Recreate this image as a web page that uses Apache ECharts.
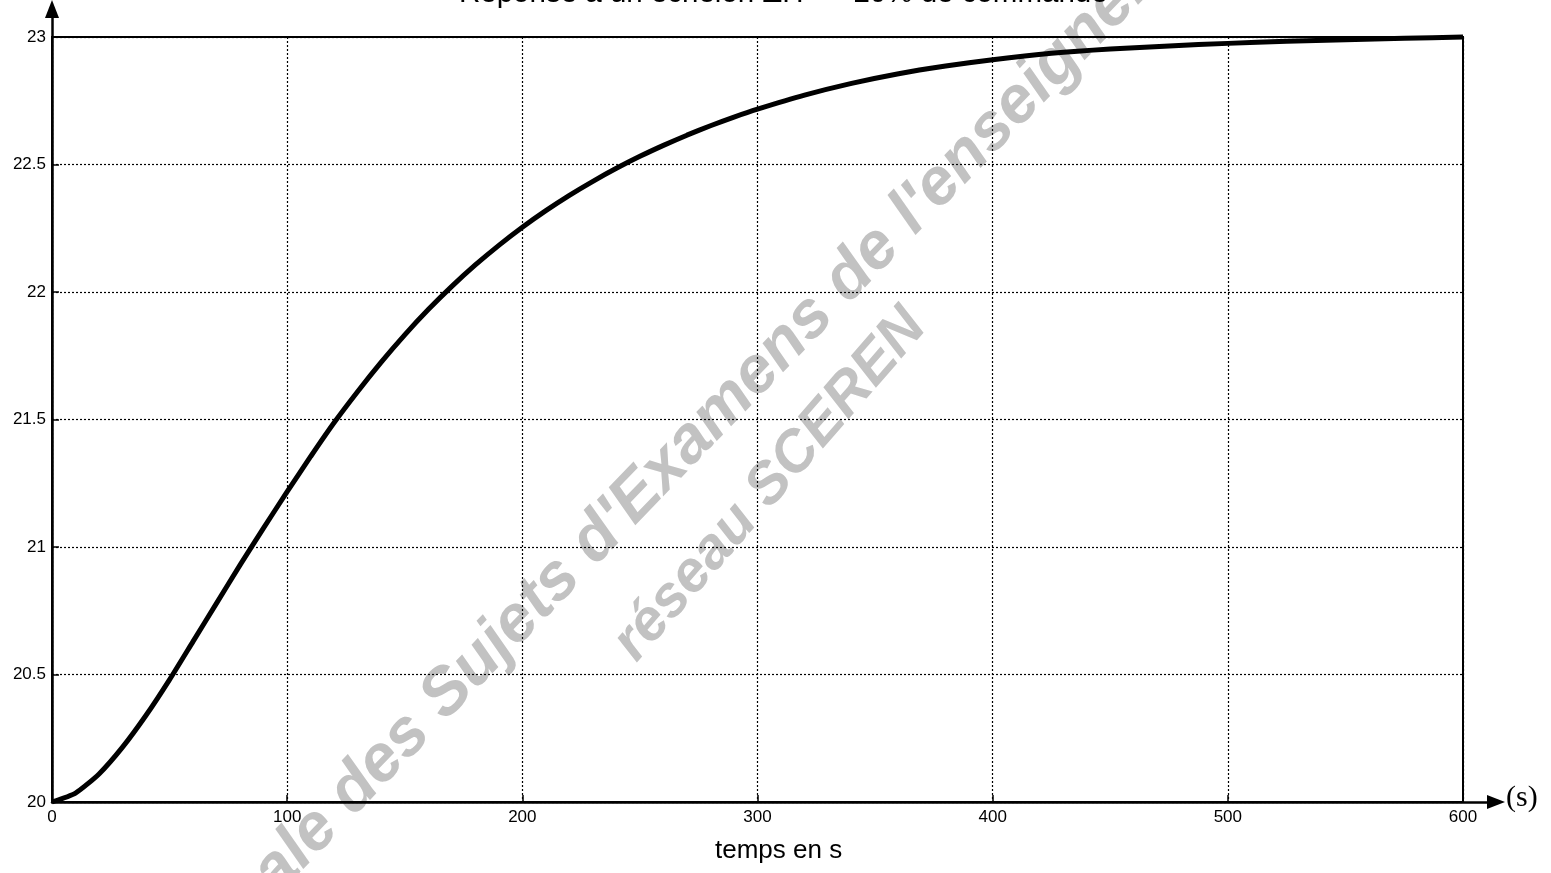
<!DOCTYPE html>
<html><head><meta charset="utf-8">
<script src="https://cdn.jsdelivr.net/npm/echarts/dist/echarts.min.js"></script>
<style>html,body{margin:0;padding:0;background:#fff}#c{width:1551px;height:873px}</style>
</head><body><div id="c"></div>
<script>
const timeS = [0,10,20,30,40,50,60,70,80,90,100,110,120,130,140,150,160,170,180,190,200,210,220,230,240,250,260,270,280,290,300,320,340,360,380,400,425,450,475,500,525,550,575,600];
const temperature = [20.000,20.035,20.11,20.215,20.34,20.48,20.63,20.78,20.93,21.075,21.217,21.355,21.488,21.61,21.725,21.832,21.931,22.022,22.106,22.183,22.254,22.319,22.379,22.434,22.485,22.532,22.575,22.615,22.652,22.686,22.717,22.772,22.818,22.856,22.886,22.911,22.936,22.953,22.965,22.975,22.983,22.989,22.995,23.0];
const xTicks = [0,100,200,300,400,500,600];
const yTicks = [20,20.5,21,21.5,22,22.5,23];
const titleText = 'Réponse à un échelon ΔH  =  20% de commande';
const xAxisName = 'temps en s';
const unitText = '(s)';
const watermark1 = "Base Nationale des Sujets d'Examens de l'enseignement professionnel";
const watermark2 = 'réseau SCEREN';

const chart = echarts.init(document.getElementById('c'), null, {renderer:'canvas'});
const font = 'Liberation Sans';
const deg = Math.PI/180;
chart.setOption({
  backgroundColor:'#fff',
  animation:false,
  title:[
    {text:titleText, left:459, top:-21, padding:0, textStyle:{fontSize:29.5, fontWeight:'normal', fontFamily:font, color:'#000'}},
    {text:xAxisName, left:715, top:838, padding:0, textStyle:{fontSize:26, fontWeight:'normal', fontFamily:font, color:'#000'}},
    {text:unitText, left:1506, top:783, padding:0, textStyle:{fontSize:30, fontWeight:'normal', fontFamily:'Liberation Serif', color:'#000'}}
  ],
  graphic:[
    {type:'text', x:-1, y:1158, rotation:46*deg, z:-10, silent:true,
     style:{text:watermark1, fill:'#c2c2c2', font:'italic bold 66px "Liberation Sans"', align:'left', verticalAlign:'middle', textAlign:'left', textVerticalAlign:'middle'}},
    {type:'text', x:770, y:485, rotation:49*deg, z:-10, silent:true,
     style:{text:watermark2, fill:'#c2c2c2', font:'italic bold 58px "Liberation Sans"', align:'center', verticalAlign:'middle', textAlign:'center', textVerticalAlign:'middle'}}
  ],
  grid:[
    {left:52, right:88, top:37, bottom:71, show:true, borderColor:'#000', borderWidth:2, backgroundColor:'transparent', outerBoundsMode:'none', containLabel:false},
    {left:52, right:55, top:9, bottom:71, outerBoundsMode:'none', containLabel:false}
  ],
  xAxis:[
    {gridIndex:0, type:'value', min:xTicks[0], max:xTicks[xTicks.length-1], interval:xTicks[1]-xTicks[0],
     axisLine:{show:false},
     axisTick:{show:true, inside:true, length:7, lineStyle:{color:'#000', width:1.5}},
     axisLabel:{color:'#000', fontSize:17, fontFamily:font, margin:7},
     splitLine:{show:true, lineStyle:{color:'#000', type:[2,2], width:1.2}}},
    {gridIndex:1, type:'value', min:0, max:1,
     axisLine:{show:true, symbol:['none','triangle'], symbolSize:[14,18], lineStyle:{color:'#000', width:2.5}},
     axisTick:{show:false}, axisLabel:{show:false}, splitLine:{show:false}}
  ],
  yAxis:[
    {gridIndex:0, type:'value', min:yTicks[0], max:yTicks[yTicks.length-1], interval:yTicks[1]-yTicks[0],
     axisLine:{show:false},
     axisTick:{show:true, inside:true, length:7, lineStyle:{color:'#000', width:1.5}},
     axisLabel:{color:'#000', fontSize:17, fontFamily:font, margin:6},
     splitLine:{show:true, lineStyle:{color:'#000', type:[2,2], width:1.2}}},
    {gridIndex:1, type:'value', min:0, max:1,
     axisLine:{show:true, symbol:['none','triangle'], symbolSize:[14,18], lineStyle:{color:'#000', width:2.5}},
     axisTick:{show:false}, axisLabel:{show:false}, splitLine:{show:false}}
  ],
  series:[
    {type:'line', xAxisIndex:0, yAxisIndex:0, data:timeS.map((t,i)=>[t, temperature[i]]),
     showSymbol:false, smooth:0.2, clip:false, lineStyle:{color:'#000', width:5}, z:5}
  ]
});
</script></body></html>
